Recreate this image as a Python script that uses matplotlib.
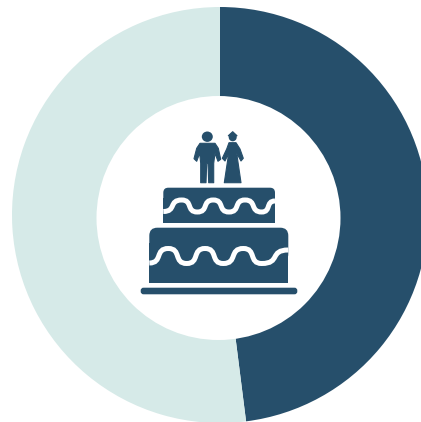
import matplotlib
matplotlib.use('Agg')
import matplotlib.pyplot as plt
import matplotlib.patches as patches
from matplotlib.path import Path

# Donut shares, clockwise from twelve o'clock
shares = [48, 52]
share_colors = ['#264f6b', '#d6eae8']

DARK = '#264f6b'
W, H = 421, 422

fig = plt.figure(figsize=(W / 100, H / 100), dpi=100)
ax = fig.add_axes([0, 0, 1, 1])

# pixel style coords, y measured from the top
def yy(y):
    return H - y

ax.pie(shares, colors=share_colors, startangle=90, counterclock=False,
       center=(220, yy(215)), radius=208, frame=False)
ax.add_patch(patches.Circle((218.5, yy(218)), 122, facecolor='white', edgecolor='none', zorder=3))

def poly(points, color=DARK, lw=0.8):
    pts = [(x, yy(y)) for x, y in points]
    ax.add_patch(patches.Polygon(pts, closed=True, facecolor=color, edgecolor=color,
                                 lw=lw, joinstyle='round', zorder=4))

def round_box(x0, y0, x1, y1, pad):
    ax.add_patch(patches.FancyBboxPatch((x0 + pad, yy(y1) + pad), x1 - x0 - 2 * pad, y1 - y0 - 2 * pad,
                                        boxstyle=f"round,pad={pad}", facecolor=DARK,
                                        edgecolor='none', zorder=4))

def wave(points, lw=3.6):
    # white icing line, flat at each crest and trough
    verts = [(points[0][0], yy(points[0][1]))]
    codes = [Path.MOVETO]
    for (x0, y0), (x1, y1) in zip(points[:-1], points[1:]):
        d = (x1 - x0) * 0.72
        verts += [(x0 + d, yy(y0)), (x1 - d, yy(y1)), (x1, yy(y1))]
        codes += [Path.CURVE4] * 3
    ax.add_patch(patches.PathPatch(Path(verts, codes), facecolor='none', edgecolor='white',
                                   lw=lw, capstyle='butt', zorder=5))

# Cake stand
round_box(140.7, 287.7, 297.3, 294.3, 2.8)

# Bottom tier
round_box(149.3, 227.7, 288.3, 262, 8)
ax.add_patch(patches.Rectangle((149.3, yy(283.3)), 139, 40, facecolor=DARK, edgecolor='none', zorder=4))
wave([(149.3, 263), (168.3, 248.5), (186.7, 263.5), (205, 248.5), (223.3, 263.5),
      (243.3, 248.5), (261.7, 263.5), (288.3, 250)])

# Top tier
round_box(163.3, 187.7, 275, 212, 5)
ax.add_patch(patches.Rectangle((163.3, yy(223.3)), 111.7, 25, facecolor=DARK, edgecolor='none', zorder=4))
wave([(163.3, 211.5), (181.7, 200), (197.3, 212), (213.3, 200), (229, 212),
      (245, 200), (261.7, 212), (275, 201)])

# Groom
ax.add_patch(patches.Ellipse((207.3, yy(136.7)), 11, 10.4, facecolor=DARK, edgecolor='none', zorder=4))
poly([(200, 143.3), (215, 143.3), (218.3, 148.3), (220.7, 159.3), (218, 161.3), (215, 153.3),
      (213.7, 163.3), (213.7, 182.7), (208.7, 182.7), (208, 163.3), (206.7, 163.3), (206, 182.7),
      (200.7, 182.7), (200.7, 163.3), (199.7, 153.3), (196.7, 161.3), (194, 158.7), (196.7, 148.3)])

# Bride
ax.add_patch(patches.Circle((232.7, yy(137.3)), 4, facecolor=DARK, edgecolor='none', zorder=4))
poly([(232.7, 131.7), (237, 135.7), (232.7, 137.5), (228.3, 135.7)])
poly([(229, 142.7), (236, 142.7), (240, 149), (243.3, 158.3), (241, 161), (236.7, 153.3),
      (241, 182.7), (224.3, 182.7), (228.7, 153.3), (225, 161), (222.3, 158.3), (226.7, 149)])

ax.set_xlim(0, W)
ax.set_ylim(0, H)
ax.set_aspect('auto')
ax.axis('off')

fig.savefig('out.png', dpi=100)
